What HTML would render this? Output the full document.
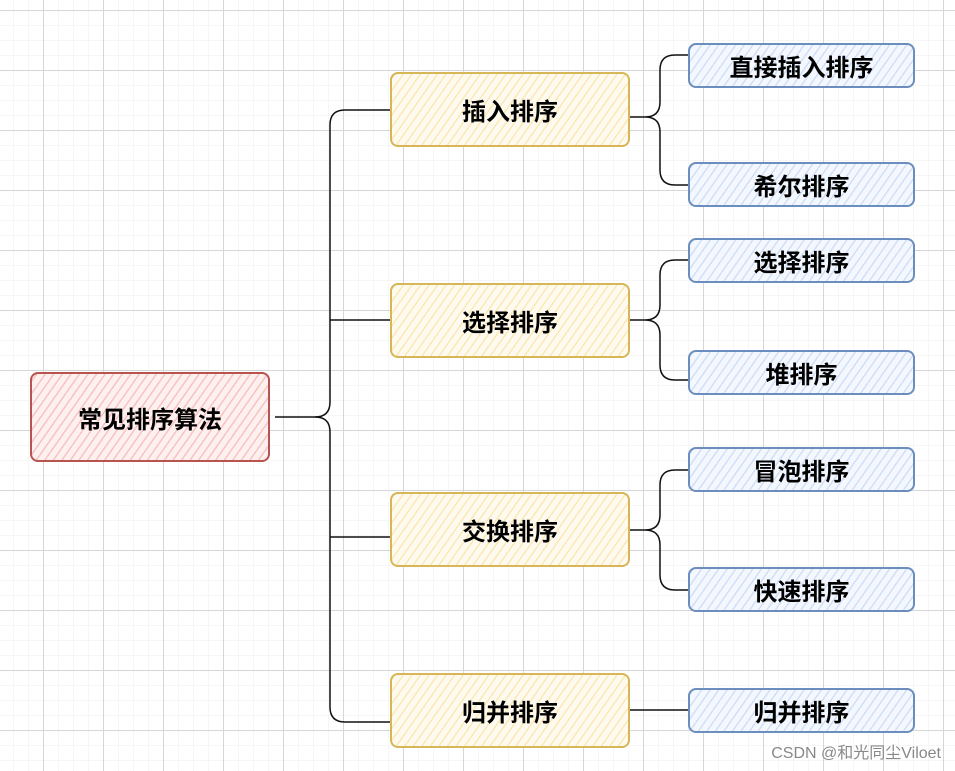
<!DOCTYPE html>
<html><head><meta charset="utf-8"><style>
html,body{margin:0;padding:0}
body{width:955px;height:771px;position:relative;overflow:hidden;background:#fff;
background-image:
linear-gradient(#d6d6d6 1px,transparent 1px),linear-gradient(90deg,#d6d6d6 1px,transparent 1px),
linear-gradient(#f6f6f6 1px,transparent 1px),linear-gradient(90deg,#f6f6f6 1px,transparent 1px);
background-size:60px 60px,60px 60px,15px 15px,15px 15px;
background-position:0 10px,43px 0,0 10px,43px 0;
font-family:"Liberation Sans","Noto Sans CJK SC",sans-serif}
.b{position:absolute;box-sizing:border-box;border:2px solid;border-radius:8px;display:flex;align-items:center;justify-content:center;font-weight:bold;font-size:24px;color:#000}
.r{border-color:#b85450;background:repeating-linear-gradient(-55deg,#f6c4c2 0 1.5px,#fdf0ef 1.5px 7px)}
.y{border-color:#d6b656;background:repeating-linear-gradient(-55deg,#fbe9b5 0 1.5px,#fffaf0 1.5px 7px)}
.u{border-color:#6c8ebf;background:repeating-linear-gradient(-55deg,#cfe0f7 0 1.5px,#f4f8fe 1.5px 7px)}
svg{position:absolute;left:0;top:0}
.wm{position:absolute;right:14px;bottom:8px;font-size:16px;color:#888}
</style></head><body>
<svg width="955" height="771" fill="none" stroke="#111" stroke-width="1.5">
<path d="M275 417 H315 Q330 417 330 402 V125 Q330 110 345 110 H390"/>
<path d="M330 320 H390"/>
<path d="M330 432 Q330 417 315 417"/>
<path d="M330 432 V707 Q330 722 345 722 H390"/>
<path d="M330 537 H390"/>
<path d="M630 117 H645 Q660 117 660 102 V70 Q660 55 675 55 H690 M645 117 Q660 117 660 132 V170 Q660 185 675 185 H690"/>
<path d="M630 320 H645 Q660 320 660 305 V275 Q660 260 675 260 H690 M645 320 Q660 320 660 335 V365 Q660 380 675 380 H690"/>
<path d="M630 530 H645 Q660 530 660 515 V485 Q660 470 675 470 H690 M645 530 Q660 530 660 545 V575 Q660 590 675 590 H690"/>
<path d="M630 710 H690"/>
</svg>
<div class="b r" style="left:30px;top:372px;width:240px;height:90px">常见排序算法</div>
<div class="b y" style="left:390px;top:72px;width:240px;height:75px">插入排序</div>
<div class="b y" style="left:390px;top:283px;width:240px;height:75px">选择排序</div>
<div class="b y" style="left:390px;top:492px;width:240px;height:75px">交换排序</div>
<div class="b y" style="left:390px;top:673px;width:240px;height:75px">归并排序</div>
<div class="b u" style="left:688px;top:43px;width:227px;height:45px">直接插入排序</div>
<div class="b u" style="left:688px;top:162px;width:227px;height:45px">希尔排序</div>
<div class="b u" style="left:688px;top:238px;width:227px;height:45px">选择排序</div>
<div class="b u" style="left:688px;top:350px;width:227px;height:45px">堆排序</div>
<div class="b u" style="left:688px;top:447px;width:227px;height:45px">冒泡排序</div>
<div class="b u" style="left:688px;top:567px;width:227px;height:45px">快速排序</div>
<div class="b u" style="left:688px;top:688px;width:227px;height:45px">归并排序</div>
<div class="wm">CSDN @和光同尘Viloet</div>
</body></html>
